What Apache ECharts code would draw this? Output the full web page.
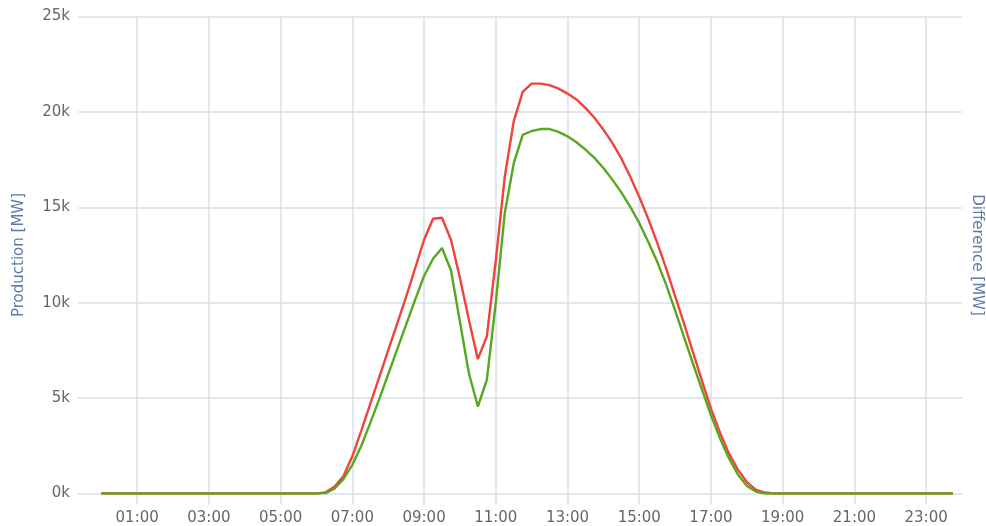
<!DOCTYPE html>
<html>
<head>
<meta charset="utf-8">
<script src="https://cdn.jsdelivr.net/npm/echarts@6/dist/echarts.min.js"></script>
<style>
html,body{margin:0;padding:0;background:#fff;}
#chart{width:986px;height:526px;}
</style>
</head>
<body>
<div id="chart"></div>
<script>
// quarter-hour time slots 00:00 .. 23:45
const times = [];
for (let h = 0; h < 24; h++) for (let m = 0; m < 60; m += 15)
  times.push(String(h).padStart(2, '0') + ':' + String(m).padStart(2, '0'));

// tick labels on the time axis
const tickLabels = ['01:00','03:00','05:00','07:00','09:00','11:00','13:00','15:00','17:00','19:00','21:00','23:00'];
const yTicks = [0, 5000, 10000, 15000, 20000, 25000];

// red series (MW)
const redValues = [
  0,0,0,0, 0,0,0,0, 0,0,0,0, 0,0,0,0, 0,0,0,0, 0,0,0,0,
  0,60,350,900,
  1950,3300,4700,6100,
  7500,8900,10300,11800,
  13300,14400,14450,13300,
  11300,9100,7040,8230,
  12200,16600,19500,21050,
  21480,21480,21400,21220,
  20960,20650,20210,19690,
  19070,18380,17560,16600,
  15550,14400,13150,11800,
  10350,8900,7400,5900,
  4450,3200,2100,1250,
  600,200,50,0,
  0,0,0,0, 0,0,0,0, 0,0,0,0, 0,0,0,0, 0,0,0,0
];

// green series (MW)
const greenValues = [
  0,0,0,0, 0,0,0,0, 0,0,0,0, 0,0,0,0, 0,0,0,0, 0,0,0,0,
  0,20,250,750,
  1500,2500,3700,4950,
  6250,7550,8850,10150,
  11400,12300,12870,11700,
  9000,6300,4560,5950,
  10000,14700,17300,18800,
  19000,19100,19100,18950,
  18720,18410,18020,17590,
  17060,16450,15780,15020,
  14180,13200,12150,10950,
  9600,8200,6800,5450,
  4100,2900,1850,1000,
  400,100,0,0,
  0,0,0,0, 0,0,0,0, 0,0,0,0, 0,0,0,0, 0,0,0,0
];

const toMin = s => { const p = s.split(':'); return (+p[0]) * 60 + (+p[1]); };
const tickMinutes = tickLabels.map(toMin);
const redData = times.map((t, i) => [toMin(t), redValues[i]]);
const greenData = times.map((t, i) => [toMin(t), greenValues[i]]);

const FONT = '"DejaVu Sans", "Open Sans", sans-serif';
const gridColor = '#d6dfe9';

const chart = echarts.init(document.getElementById('chart'), null, {renderer: 'canvas'});
chart.setOption({
  animation: false,
  backgroundColor: '#fff',
  grid: {left: 78, right: 24, top: 16.5, bottom: 32.5, containLabel: false, outerBoundsMode: 'none'},
  xAxis: {
    type: 'value',
    min: -39,
    max: 1440,
    axisLine: {show: false},
    axisTick: {show: true, customValues: tickMinutes, length: 11, lineStyle: {color: gridColor, width: 1.5}},
    axisLabel: {
      customValues: tickMinutes,
      formatter: v => tickLabels[tickMinutes.indexOf(v)] || '',
      color: '#666', fontSize: 15, fontFamily: FONT, margin: 17
    },
    splitLine: {show: true, lineStyle: {color: gridColor, width: 1.5}}
  },
  yAxis: [{
    type: 'value',
    min: yTicks[0], max: yTicks[yTicks.length - 1], interval: 5000,
    name: 'Production [MW]',
    nameLocation: 'middle', nameRotate: 90, nameGap: 51,
    nameTextStyle: {color: '#5a7bab', fontSize: 15, fontFamily: FONT},
    axisLine: {show: false}, axisTick: {show: false},
    axisLabel: {formatter: v => (v / 1000) + 'k', color: '#666', fontSize: 15, fontFamily: FONT, margin: 8},
    splitLine: {show: true, lineStyle: {color: gridColor, width: 1.5}}
  }, {
    type: 'value', position: 'right',
    min: 0, max: 25000,
    name: 'Difference [MW]',
    nameLocation: 'middle', nameRotate: -90, nameGap: 7,
    nameTextStyle: {color: '#5a7bab', fontSize: 15, fontFamily: FONT},
    axisLine: {show: false}, axisTick: {show: false}, axisLabel: {show: false},
    splitLine: {show: false}
  }],
  series: [{
    type: 'line', data: redData, showSymbol: false, symbol: 'none',
    lineStyle: {color: '#f2433b', width: 2.4}, itemStyle: {color: '#f2433b'}, z: 2
  }, {
    type: 'line', data: greenData, showSymbol: false, symbol: 'none',
    lineStyle: {color: '#58a71f', width: 2.4}, itemStyle: {color: '#58a71f'}, z: 3
  }]
});
</script>
</body>
</html>
